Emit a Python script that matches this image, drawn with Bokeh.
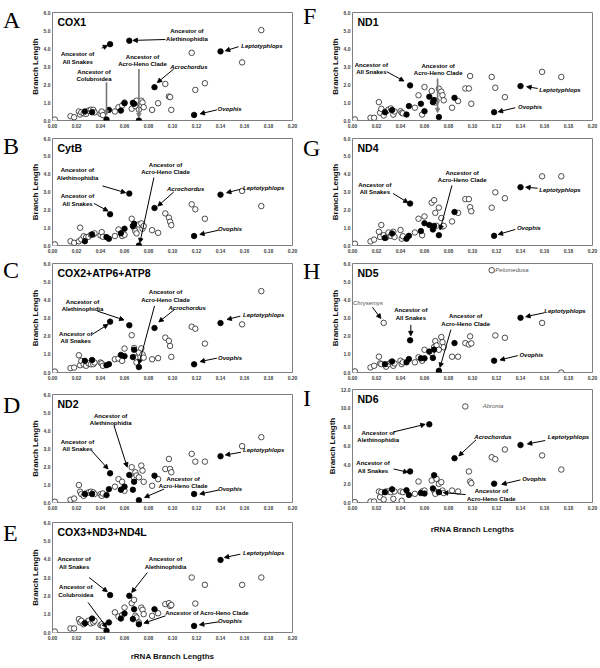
from bokeh.plotting import figure
from bokeh.models import Range1d, FixedTicker, Label, Arrow, NormalHead, ColumnDataSource, NumeralTickFormatter, Div
from bokeh.layouts import column, row
from bokeh.core.properties import value
from bokeh.embed import file_html
from bokeh.resources import INLINE

# ---------------- data ----------------
# rRNA branch lengths (shared x for all panels)
snake_x = [0.027, 0.033, 0.045, 0.047, 0.048, 0.057, 0.060, 0.064, 0.067, 0.068, 0.072, 0.085, 0.118, 0.140]
other_x = [0.002, 0.015, 0.018, 0.022, 0.023, 0.024, 0.026, 0.028, 0.030, 0.032, 0.034, 0.035, 0.040, 0.041,
           0.042, 0.052, 0.055, 0.058, 0.060, 0.066, 0.068, 0.069, 0.070, 0.072, 0.074, 0.075, 0.076, 0.083,
           0.088, 0.094, 0.097, 0.098, 0.099, 0.116, 0.119, 0.127, 0.158, 0.174]

snake_cox1 = [0.50, 0.46, 0.06, 0.59, 4.24, 0.55, 0.96, 4.43, 0.98, 0.93, 0.00, 1.85, 0.31, 3.84]
snake_cytb = [0.24, 0.62, 0.47, 0.38, 1.75, 0.68, 0.94, 2.91, 1.09, 1.22, 0.00, 2.10, 0.53, 2.85]
snake_cox2 = [0.64, 0.69, 0.40, 0.46, 2.80, 0.97, 0.90, 2.60, 0.85, 1.25, 0.30, 2.45, 0.45, 2.72]
snake_nd2 = [0.47, 0.47, 0.41, 0.74, 1.62, 0.71, 0.88, 1.53, 0.71, 1.15, 0.13, 1.49, 0.47, 2.57]
snake_cox3 = [0.51, 0.76, 0.09, 0.55, 2.04, 0.76, 1.04, 2.00, 0.73, 1.27, 0.45, 1.27, 0.36, 3.96]
snake_nd1 = [0.46, 0.58, 0.33, 0.80, 1.95, 0.93, 0.52, 1.32, 1.02, 1.13, 0.19, 1.26, 0.46, 1.91]
snake_nd4 = [0.42, 0.67, 0.38, 0.54, 2.35, 0.81, 1.25, 1.15, 0.90, 1.10, 0.58, 1.88, 0.54, 3.27]
snake_nd5 = [0.46, 0.61, 0.56, 0.74, 1.77, 0.78, 0.78, 1.15, 0.80, 1.26, 0.09, 1.62, 0.65, 3.01]
snake_nd6 = [1.10, 1.40, 1.30, 0.80, 3.30, 1.00, 0.95, 8.30, 1.50, 2.90, 1.10, 4.70, 2.00, 6.10]

other_cox1 = [0.05, 0.24, 0.18, 0.50, 0.33, 0.45, 0.40, 0.37, 0.55, 0.60, 0.59, 0.45, 0.37, 0.50, 0.30, 0.50, 0.74, 0.83,
              1.00, 0.65, 0.92, 0.80, 1.10, 0.60, 1.10, 1.00, 0.74, 0.59, 0.96, 2.03, 1.33, 1.30, 0.59, 3.76, 1.70, 2.07, 3.23, 5.02]
other_cytb = [0.06, 0.24, 0.15, 0.24, 1.00, 0.34, 0.52, 0.47, 0.49, 0.60, 0.62, 0.68, 0.56, 0.75, 0.49, 0.53, 0.90, 0.53,
              0.60, 1.50, 1.00, 0.81, 0.68, 1.18, 1.24, 0.94, 1.09, 0.86, 0.71, 1.80, 1.56, 1.33, 1.14, 2.31, 2.03, 1.50, 3.06, 2.21]
other_cox2 = [0.05, 0.24, 0.27, 0.95, 0.40, 0.64, 0.45, 0.37, 0.50, 0.45, 0.46, 0.55, 0.55, 0.50, 0.37, 0.73, 0.77, 0.64,
              1.32, 2.05, 1.35, 0.82, 0.55, 1.10, 1.33, 1.00, 0.82, 0.73, 0.79, 1.92, 1.74, 1.46, 0.86, 2.52, 2.41, 1.59, 2.65, 4.48]
other_nd2 = [0.04, 0.15, 0.22, 0.97, 0.60, 0.47, 0.37, 0.50, 0.56, 0.60, 0.56, 0.47, 0.47, 0.37, 0.50, 0.88, 1.30, 1.15,
             0.65, 1.96, 1.36, 1.68, 1.50, 1.40, 2.05, 1.77, 1.15, 0.93, 1.30, 1.86, 2.42, 1.86, 1.68, 2.70, 2.27, 2.27, 3.13, 3.63]
other_cox3 = [0.05, 0.22, 0.22, 0.73, 0.55, 0.64, 0.45, 0.55, 0.64, 0.50, 0.55, 0.64, 0.40, 0.45, 0.35, 1.10, 0.87, 0.95,
              1.36, 1.60, 1.78, 0.91, 0.82, 0.55, 1.36, 1.24, 1.00, 0.91, 1.05, 1.55, 1.60, 1.45, 1.50, 3.00, 1.58, 2.60, 2.60, 3.00]
other_nd1 = [0.06, 0.15, 0.15, 1.02, 0.43, 0.65, 0.28, 0.50, 0.61, 0.67, 0.33, 0.50, 0.52, 0.43, 0.40, 0.71, 1.40, 0.33,
             1.86, 1.64, 1.13, 1.00, 1.10, 1.77, 1.60, 1.40, 1.12, 0.71, 1.08, 1.78, 1.78, 2.47, 0.93, 2.42, 1.82, 1.30, 2.70, 2.42]
other_nd4 = [0.10, 0.23, 0.33, 0.77, 0.48, 1.15, 0.58, 0.45, 0.73, 0.54, 0.77, 0.48, 0.87, 0.38, 0.52, 0.73, 1.50, 0.58,
             1.63, 2.40, 2.54, 1.83, 1.10, 2.12, 1.54, 1.06, 1.10, 1.35, 1.83, 2.60, 2.60, 2.15, 1.92, 2.12, 2.98, 2.65, 3.88, 3.88]
other_nd5 = [0.06, 0.28, 0.37, 0.87, 0.50, 0.46, 2.73, 0.32, 0.46, 0.56, 0.37, 0.50, 0.65, 0.46, 0.56, 0.56, 0.84, 0.65,
             1.25, 1.06, 1.40, 1.73, 1.49, 1.25, 1.95, 1.67, 1.39, 0.87, 0.87, 1.62, 1.54, 1.99, 1.60, 5.63, 2.04, 1.91, 2.73, 0.00]
other_nd6 = [0.04, 0.10, 0.10, 1.17, 0.57, 1.10, 0.32, 1.17, 1.17, 1.10, 0.39, 1.17, 1.17, 0.18, 1.10, 0.92, 2.23, 1.17,
             1.27, 2.34, 1.27, 0.92, 2.51, 1.98, 2.16, 1.27, 1.00, 1.27, 1.17, 10.20, 3.30, 2.23, 2.05, 4.81, 4.60, 5.63, 5.00, 3.50]

x_ticks = [0.00, 0.02, 0.04, 0.06, 0.08, 0.10, 0.12, 0.14, 0.16, 0.18, 0.20]
y_ticks_6 = [0, 1, 2, 3, 4, 5, 6]
y_ticks_12 = [0, 2, 4, 6, 8, 10, 12]

# annotations: (text, x, y, style, arrow(x0, y0, x1, y1) or None, arrow colour)
ann_A = [
    ("Ancestor of\nAll Snakes", 0.021, 3.47, "b", (0.041, 4.02, 0.046, 4.17), "black"),
    ("Ancestor of\nAlethinophidia", 0.112, 4.76, "b", (0.094, 4.50, 0.067, 4.45), "black"),
    ("Ancestor of\nAcro-Heno Clade", 0.075, 3.32, "b", (0.072, 2.86, 0.072, 0.15), "#777777"),
    ("Ancestor of\nColubroidea", 0.0346, 2.49, "b", (0.045, 2.12, 0.045, 0.30), "#777777"),
    ("Acrochordus", 0.1136, 2.95, "bi", (0.101, 2.86, 0.0873, 2.10), "black"),
    ("Leptotyphlops", 0.1745, 4.15, "bi", (0.155, 4.10, 0.144, 3.87), "black"),
    ("Ovophis", 0.1476, 0.65, "bi", (0.137, 0.59, 0.123, 0.37), "black"),
]
ann_B = [
    ("Ancestor of\nAlethinophidia", 0.0208, 4.0, "b", (0.0416, 3.34, 0.061, 2.96), "black"),
    ("Ancestor of\nAll Snakes", 0.0208, 2.55, "b", (0.0346, 2.36, 0.0463, 1.93), "black"),
    ("Ancestor of\nAcro-Heno Clade", 0.0942, 4.32, "b", (0.0845, 3.81, 0.0728, 0.15), "black"),
    ("Acrochordus", 0.111, 3.15, "bi", (0.101, 3.0, 0.0878, 2.21), "black"),
    ("Leptotyphlops", 0.176, 3.25, "bi", (0.1565, 3.15, 0.145, 2.96), "black"),
    ("Ovophis", 0.148, 0.9, "bi", (0.1385, 0.86, 0.1227, 0.62), "black"),
]
ann_C = [
    ("Ancestor of\nAlethinophidia", 0.025, 3.69, "b", (0.0374, 3.38, 0.0596, 2.89), "black"),
    ("Ancestor of\nAll Snakes", 0.0194, 1.92, "b", (0.0332, 2.1, 0.0463, 2.65), "black"),
    ("Ancestor of\nAcro-Heno Clade", 0.0942, 4.2, "b", (0.085, 3.66, 0.072, 0.46), "black"),
    ("Acrochordus", 0.1122, 3.56, "bi", (0.1017, 3.47, 0.0886, 2.78), "black"),
    ("Leptotyphlops", 0.176, 3.14, "bi", (0.1565, 3.1, 0.1454, 2.92), "black"),
    ("Ovophis", 0.148, 0.82, "bi", (0.137, 0.79, 0.123, 0.6), "black"),
]
ann_D = [
    ("Ancestor of\nAlethinophidia", 0.0485, 4.62, "b", (0.0512, 4.28, 0.0623, 1.96), "black"),
    ("Ancestor of\nAll Snakes", 0.0208, 3.17, "b", (0.0324, 2.89, 0.0463, 1.86), "black"),
    ("Ancestor of\nAcro-Heno Clade", 0.1089, 1.12, "b", (0.0928, 0.74, 0.0767, 0.28), "black"),
    ("Leptotyphlops", 0.176, 2.89, "bi", (0.157, 2.79, 0.144, 2.64), "black"),
    ("Ovophis", 0.148, 0.74, "bi", (0.1385, 0.69, 0.1227, 0.47), "black"),
]
ann_E = [
    ("Ancestor of\nAll Snakes", 0.018, 3.78, "b", (0.0305, 3.0, 0.0457, 2.22), "black"),
    ("Ancestor of\nAlethinophidia", 0.0942, 3.78, "b", (0.079, 3.27, 0.066, 2.18), "black"),
    ("Ancestor of\nColubroidea", 0.0194, 2.27, "b", (0.0296, 1.64, 0.0452, 0.27), "black"),
    ("Ancestor of Acro-Heno Clade", 0.1288, 1.09, "b", (0.0942, 0.91, 0.0762, 0.51), "black"),
    ("Leptotyphlops", 0.176, 4.36, "bi", (0.1565, 4.27, 0.1432, 4.09), "black"),
    ("Ovophis", 0.148, 0.64, "bi", (0.1385, 0.58, 0.1224, 0.42), "black"),
]
ann_F = [
    ("Ancestor of\nAll Snakes", 0.0157, 2.9, "b", (0.0286, 2.71, 0.0429, 2.19), "black"),
    ("Ancestor of\nAcro-Heno Clade", 0.0714, 2.84, "b", (0.0709, 2.34, 0.0709, 0.43), "#777777"),
    ("Leptotyphlops", 0.1729, 1.67, "bi", (0.1543, 1.78, 0.1451, 1.88), "black"),
    ("Ovophis", 0.148, 0.74, "bi", (0.1357, 0.71, 0.1214, 0.48), "black"),
]
ann_G = [
    ("Ancestor of\nAll Snakes", 0.0186, 3.21, "b", (0.0337, 2.92, 0.0463, 2.4), "black"),
    ("Ancestor of\nAcro-Heno Clade", 0.0914, 3.88, "b", (0.0829, 3.37, 0.0729, 0.87), "black"),
    ("Leptotyphlops", 0.1729, 3.12, "bi", (0.1543, 3.21, 0.1443, 3.27), "black"),
    ("Ovophis", 0.147, 0.96, "bi", (0.1357, 0.9, 0.1214, 0.62), "black"),
]
ann_H = [
    ("Chrysemys", 0.0129, 3.85, "i", (0.0166, 3.59, 0.0237, 2.97), "black"),
    ("Pelomedusa", 0.1329, 5.63, "i", None, "black"),
    ("Ancestor of\nAll Snakes", 0.0486, 3.22, "b", (0.0486, 2.62, 0.0486, 2.02), "black"),
    ("Ancestor of\nAcro-Heno Clade", 0.0943, 2.88, "b", (0.082, 2.36, 0.0729, 0.28), "black"),
    ("Leptotyphlops", 0.1771, 3.38, "bi", (0.16, 3.29, 0.1443, 3.07), "black"),
    ("Ovophis", 0.1491, 0.99, "bi", (0.1377, 0.93, 0.1229, 0.69), "black"),
]
ann_I = [
    ("Abronia", 0.1171, 10.2, "i", None, "black"),
    ("Ancestor of\nAlethinophidia", 0.0214, 7.0, "b", (0.0343, 7.5, 0.0606, 8.3), "black"),
    ("Acrochordus", 0.1171, 6.95, "bi", (0.1029, 6.65, 0.0886, 4.95), "black"),
    ("Leptotyphlops", 0.18, 6.95, "bi", (0.1606, 6.58, 0.1457, 6.22), "black"),
    ("Ancestor of\nAll Snakes", 0.0171, 3.75, "b", (0.0343, 3.56, 0.0463, 3.2), "black"),
    ("Ovophis", 0.1514, 2.5, "bi", (0.14, 2.4, 0.1243, 1.93), "black"),
    ("Ancestor of\nAcro-Heno Clade", 0.1157, 0.8, "b", (0.0943, 0.84, 0.0757, 1.05), "black"),
]

SANS = "Liberation Sans"


def letter_div(letter, pad_top):
    html = ('<div style="font-family:\'Liberation Serif\',serif;font-size:24px;line-height:24px;'
            f'padding:{pad_top}px 0 0 3px;color:#000;margin:0">{letter}</div>')
    return Div(text=html, width=24, height=40, margin=(0, 0, 0, 0))


def make_panel(title, snake_y, other_y, ymax, yticks, ann, right_border,
               top, fh, bottom, xlabel=None, xlabel_standoff=9):
    p = figure(output_backend="svg", toolbar_location=None, title=None,
               frame_width=240, frame_height=fh,
               x_range=Range1d(0, 0.2), y_range=Range1d(0, ymax),
               min_border_left=28, min_border_right=right_border,
               min_border_top=top, min_border_bottom=bottom)
    p.background_fill_color = "white"
    p.border_fill_color = "white"
    p.outline_line_color = "#7f7f7f"
    p.outline_line_width = 1
    p.xgrid.visible = False
    p.ygrid.visible = False

    for ax in (p.xaxis[0], p.yaxis[0]):
        ax.axis_line_color = None
        ax.major_tick_line_color = None
        ax.minor_tick_line_color = None
        ax.major_tick_out = 0
        ax.major_tick_in = 0
        ax.minor_tick_out = 0
        ax.minor_tick_in = 0
        ax.major_label_text_font = SANS
        ax.major_label_text_font_size = "5px"
        ax.major_label_text_font_style = "bold"
        ax.major_label_text_color = "#444444"
    p.xaxis.ticker = FixedTicker(ticks=x_ticks)
    p.xaxis.formatter = NumeralTickFormatter(format="0.00")
    p.xaxis.major_label_standoff = 3
    p.yaxis.ticker = FixedTicker(ticks=yticks)
    p.yaxis.formatter = NumeralTickFormatter(format="0.0")
    p.yaxis.major_label_standoff = 2
    p.yaxis.axis_label = "Branch Length"
    p.yaxis.axis_label_text_font = SANS
    p.yaxis.axis_label_text_font_size = "8px"
    p.yaxis.axis_label_text_font_style = "bold"
    p.yaxis.axis_label_text_color = "#111111"
    p.yaxis.axis_label_standoff = 1
    if xlabel:
        p.xaxis.axis_label = xlabel
        p.xaxis.axis_label_text_font = SANS
        p.xaxis.axis_label_text_font_size = "8px"
        p.xaxis.axis_label_text_font_style = "bold"
        p.xaxis.axis_label_text_color = "#111111"
        p.xaxis.axis_label_standoff = xlabel_standoff

    src_o = ColumnDataSource(dict(x=other_x, y=other_y))
    src_s = ColumnDataSource(dict(x=snake_x, y=snake_y))
    p.scatter("x", "y", source=src_o, size=5.5, marker="circle",
              fill_color="white", line_color="#222222", line_width=0.8)
    p.scatter("x", "y", source=src_s, size=5.5, marker="circle",
              fill_color="black", line_color="black", line_width=0.8)

    for (txt, tx, ty, style, arr, acol) in ann:
        if arr is not None:
            p.add_layout(Arrow(end=NormalHead(size=4.5, fill_color=acol, line_color=acol, line_width=0.8),
                               x_start=arr[0], y_start=arr[1], x_end=arr[2], y_end=arr[3],
                               line_color=acol, line_width=1 if acol == "black" else 1.6))
        if style == "b":
            fstyle, col = "bold", "black"
        elif style == "bi":
            fstyle, col = "bold italic", "black"
        else:
            fstyle, col = "italic", "#555555"
        p.text(x=[tx], y=[ty], text=[txt], text_font=value(SANS), text_font_size="6px",
               text_font_style=fstyle, text_color=col, text_align="center",
               text_baseline="middle", text_line_height=1.25)

    p.add_layout(Label(x=5, y=fh - 3, x_units="screen", y_units="screen", text=title,
                       text_font=SANS, text_font_size="10.5px", text_font_style="bold",
                       text_baseline="top", text_align="left", text_color="black"))
    return p


pA = make_panel("COX1", snake_cox1, other_cox1, 6, y_ticks_6, ann_A, 8, 12, 108, 13)
pB = make_panel("CytB", snake_cytb, other_cytb, 6, y_ticks_6, ann_B, 8, 5, 107, 13)
pC = make_panel("COX2+ATP6+ATP8", snake_cox2, other_cox2, 6, y_ticks_6, ann_C, 8, 5, 109, 13)
pD = make_panel("ND2", snake_nd2, other_nd2, 6, y_ticks_6, ann_D, 8, 9, 108, 12)
pE = make_panel("COX3+ND3+ND4L", snake_cox3, other_cox3, 6, y_ticks_6, ann_E, 8, 8, 110, 28,
                xlabel="rRNA Branch Lengths", xlabel_standoff=9)

pF = make_panel("ND1", snake_nd1, other_nd1, 6, y_ticks_6, ann_F, 6, 12, 108, 13)
pG = make_panel("ND4", snake_nd4, other_nd4, 6, y_ticks_6, ann_G, 6, 5, 107, 13)
pH = make_panel("ND5", snake_nd5, other_nd5, 6, y_ticks_6, ann_H, 6, 5, 109, 13)
pI = make_panel("ND6", snake_nd6, other_nd6, 12, y_ticks_12, ann_I, 6, 4, 113, 30,
                xlabel="rRNA Branch Lengths", xlabel_standoff=12)

left = column(row(letter_div("A", 8), pA, spacing=0),
              row(letter_div("B", 1), pB, spacing=0),
              row(letter_div("C", 0), pC, spacing=0),
              row(letter_div("D", 8), pD, spacing=0),
              row(letter_div("E", 7), pE, spacing=0), spacing=0)
right = column(row(letter_div("F", 4), pF, spacing=0),
               row(letter_div("G", 3), pG, spacing=0),
               row(letter_div("H", 1), pH, spacing=0),
               row(letter_div("I", 1), pI, spacing=0), spacing=0)
layout = row(left, right, spacing=0)

open("out.html", "w").write(file_html(layout, INLINE))
